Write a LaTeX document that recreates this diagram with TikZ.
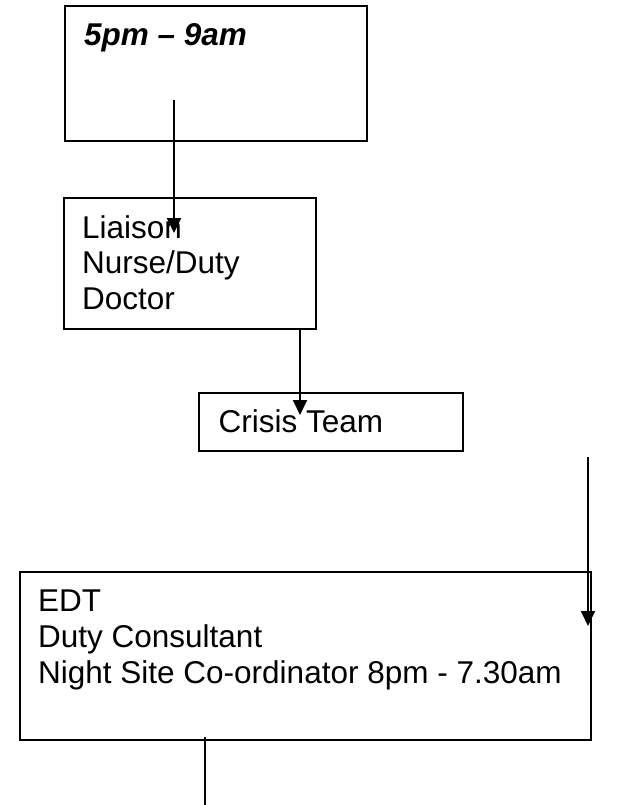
\documentclass[tikz,border=0pt]{standalone}
\usepackage{fontspec}
\setmainfont{Liberation Sans}
\usetikzlibrary{arrows.meta}
\begin{document}
\begin{tikzpicture}[x=1pt,y=-1pt,
  box/.style={draw, rectangle, line width=1.7pt, inner sep=0pt, anchor=north west},
  lbl/.style={inner sep=0pt, anchor=base west, font=\fontsize{31.5}{36}\selectfont},
  flow/.style={line width=2pt, -{Triangle[length=15pt,width=14pt]}},
  plain/.style={line width=2pt}]
\useasboundingbox (0,0) rectangle (642,805);

% boxes
\node[box, minimum width=302pt, minimum height=135pt] (night) at (64,5) {};
\node[box, minimum width=252pt, minimum height=131pt] (liaison) at (63,197) {};
\node[box, minimum width=264pt, minimum height=58pt] (crisis) at (198,392) {};
\node[box, minimum width=571pt, minimum height=168pt] (edt) at (19,571) {};

% box texts
\node[lbl, font=\fontsize{31.5}{36}\selectfont\bfseries\itshape] (hours) at (84,46) {5pm – 9am};
\node[lbl] (l1) at (82,238) {Liaison};
\node[lbl] (l2) at (82,273) {Nurse/Duty};
\node[lbl] (l3) at (82,309) {Doctor};
\node[lbl] (c1) at (218.5,432) {Crisis Team};
\node[lbl] (e1) at (38,611) {EDT};
\node[lbl] (e2) at (38,647) {Duty Consultant};
\node[lbl] (e3) at (38,683) {Night Site Co-ordinator 8pm - 7.30am};

% connector end points
\coordinate (p1a) at (174,100);
\coordinate (p1b) at (174,233);
\coordinate (p2a) at (300,328);
\coordinate (p2b) at (300,415);
\coordinate (p3a) at (588,457);
\coordinate (p3b) at (588,626);
\coordinate (p4a) at (205,737);
\coordinate (p4b) at (205,805);

% connectors
\draw[flow] (p1a) -- (p1b);
\draw[flow] (p2a) -- (p2b);
\draw[flow] (p3a) -- (p3b);
\draw[plain] (p4a) -- (p4b);
\end{tikzpicture}
\end{document}
